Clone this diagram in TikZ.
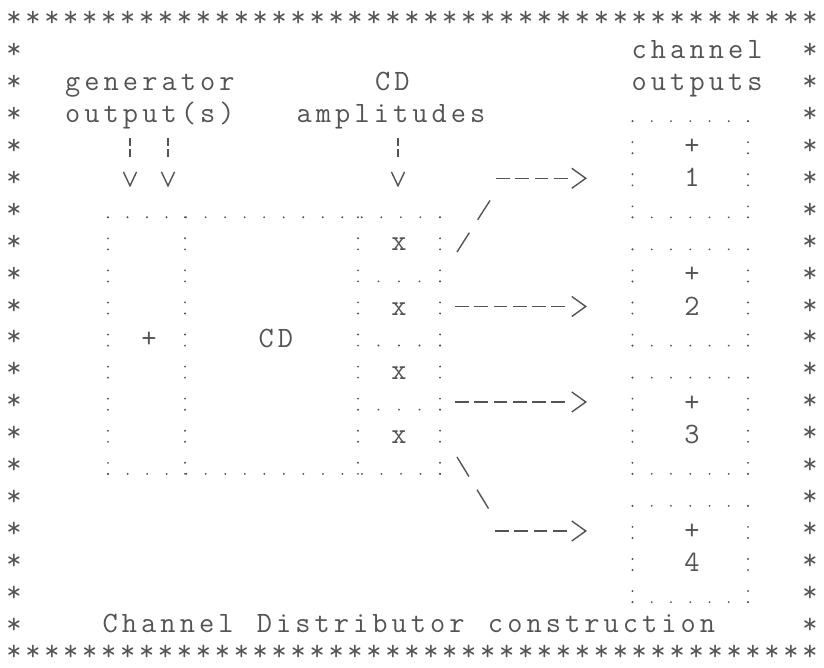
\documentclass[tikz,border=0pt]{standalone}
\usepackage{xcolor}
\usetikzlibrary{arrows.meta}

\definecolor{ink}{gray}{0.33}
\newlength\cellw
\setlength\cellw{0.4815cm}
\newcommand\asciifont{\ttfamily\fontsize{21}{24}\selectfont}
\ExplSyntaxOn
\NewDocumentCommand \spaced { m }
  { \str_map_inline:nn {#1} { \makebox[\cellw]{##1} } }
\ExplSyntaxOff

\tikzset{
  txt/.style={inner sep=0pt, anchor=base west, font=\asciifont, text=ink},
  glyph/.style={inner sep=0pt, anchor=base, font=\asciifont, text=ink},
  rim/.style={inner sep=0pt, anchor=base, font=\asciifont, text=ink},
  frame/.style={inner sep=0pt, outer sep=0pt},
  dotline/.style={draw=ink, line width=1.5pt, line cap=round},
  hdots/.style={dotline, dash pattern=on 0pt off #1},
  vdown/.style={dotline, dash pattern=on 0pt off 0.525cm on 0pt off 0.2765cm},
  vup/.style={dotline, dash pattern=on 0pt off 0.2765cm on 0pt off 0.525cm},
  feed/.style={draw=ink, line width=1pt, shorten >=0.745cm,
    dash pattern=on 0.2cm off 0.075cm on 0.2cm off 3cm,
    -{Straight Barb[length=0.35cm, width=0.33cm]}},
  link4/.style={draw=ink, line width=1pt, shorten >=1.1375cm,
    dash pattern=on 0.3425cm off 0.139cm on 0.3425cm off 0.139cm on 0.3425cm off 0.139cm on 0.3425cm off 3cm,
    -{Straight Barb[length=0.35cm, width=0.5cm]}},
  link6/.style={draw=ink, line width=1pt, shorten >=1.1375cm,
    dash pattern=on 0.3425cm off 0.139cm on 0.3425cm off 0.139cm on 0.3425cm off 0.139cm on 0.3425cm off 0.139cm on 0.3425cm off 0.139cm on 0.3425cm off 3cm,
    -{Straight Barb[length=0.35cm, width=0.5cm]}},
  stub/.style={draw=ink, line width=1pt,
    dash pattern=on 0.5725cm off 0.385cm on 0.5725cm off 3cm}
}

\begin{document}
\begin{tikzpicture}[x=0.025cm, y=-0.025cm]
    \useasboundingbox (0,0) rectangle (824,668);

    % star border
    \foreach \i in {0,...,42} {
        \node[rim] (top\i) at (14+18.95*\i, 27) {*};
        \node[rim] (bot\i) at (14+18.95*\i, 661) {*};
    }
    \foreach \r in {1,...,19} {
        \node[rim] (lft\r) at (14, 27+31.9*\r) {*};
        \node[rim] (rgt\r) at (810, 27+31.9*\r) {*};
    }

    % headings
    \node[txt] (chan) at (629.4, 58.6) {\spaced{channel}};
    \node[txt] (gen) at (62.9, 90.6) {\spaced{generator}};
    \node[txt] (cdname) at (372.9, 90.6) {\spaced{CD}};
    \node[txt] (outs) at (629.4, 90.6) {\spaced{outputs}};
    \node[txt] (genout) at (62.9, 122.7) {\spaced{output(s)}};
    \node[txt] (amps) at (294.4, 122.7) {\spaced{amplitudes}};

    % CD block
    \node[frame, minimum width=8.3cm, minimum height=6.415cm] (cd) at (274, 345.6) {};
    \coordinate (sepA) at (185, 217.3);
    \coordinate (sepB) at (358, 217.3);
    \draw[hdots=0.488cm] (cd.north west) -- (cd.north east);
    \draw[vdown] (cd.north east) -- (cd.south east);
    \draw[hdots=0.488cm] (cd.south east) -- (cd.south west);
    \draw[vup] (cd.south west) -- (cd.north west);
    \draw[vdown] (sepA) -- (sepA |- cd.south);
    \draw[vdown] (sepB) -- (sepB |- cd.south);
    \foreach \r/\y in {8/281.4, 10/345.5, 12/409.6} {
        \coordinate (amp\r) at (440, \y);
        \draw[hdots=0.5125cm] (amp\r) -- (amp\r -| sepB);
    }
    \foreach \r in {7,9,11,13}
        \node[glyph] (x\r) at (399, 26.5+32.06*\r) {x};
    \node[glyph] (gsum) at (149, 347.1) {+};
    \node[txt] (cdtext) at (256.4, 347.1) {\spaced{CD}};

    % channel boxes
    \foreach \k in {1,...,4} {
        \node[frame, minimum width=2.8875cm, minimum height=2.4045cm] (ch\k) at (690.25, 41.05+128.24*\k) {};
        \draw[hdots=0.48125cm] (ch\k.north west) -- (ch\k.north east);
        \draw[vdown] (ch\k.north east) -- (ch\k.south east);
        \draw[hdots=0.48125cm] (ch\k.south east) -- (ch\k.south west);
        \draw[vup] (ch\k.south west) -- (ch\k.north west);
        \node[glyph] (add\k) at (692, 26.5+128.24*\k) {+};
        \node[glyph] (num\k) at (692, 58.56+128.24*\k) {\k};
    }

    % inputs
    \coordinate (gin1) at (130, 138);
    \coordinate (gin2) at (168, 138);
    \coordinate (ampin) at (398, 138);
    \foreach \p in {gin1, gin2, ampin}
        \draw[feed] (\p) -- (\p |- cd.north);

    % outputs
    \coordinate (up0) at (457, 252);
    \coordinate (up1) at (490, 200.5);
    \draw[stub] (up0) -- (up1);
    \coordinate (o1) at (496, 178.3);
    \draw[link4] (o1) -- (o1 -| ch1.west);
    \coordinate (o2) at (455, 306.5);
    \draw[link6] (o2) -- (o2 -| ch2.west);
    \coordinate (o3) at (455, 402);
    \draw[link6] (o3) -- (o3 -| ch3.west);
    \coordinate (dn0) at (457, 457);
    \coordinate (dn1) at (488.5, 508.5);
    \draw[stub] (dn0) -- (dn1);
    \coordinate (o4) at (495, 531);
    \draw[link4] (o4) -- (o4 -| ch4.west);

    % caption
    \node[txt] (title) at (100.4, 633) {\spaced{Channel Distributor construction}};
\end{tikzpicture}
\end{document}
